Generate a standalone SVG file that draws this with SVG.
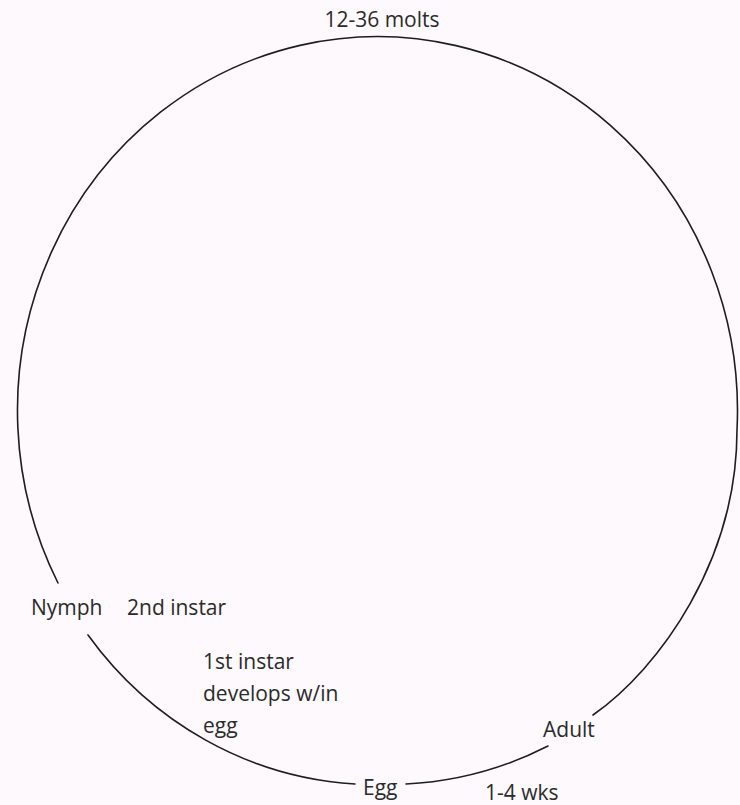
<svg xmlns="http://www.w3.org/2000/svg" width="740" height="805" viewBox="0 0 740 805">
<style>
.lbl{font-family:"Open Sans","Noto Sans","Liberation Sans",sans-serif;font-size:21px;fill:#2b2b2b}
.arc{fill:none;stroke:#1e1e1e;stroke-width:1.6;stroke-linecap:round}
</style>
<rect width="740" height="805" fill="#fdf9fc"/>
<g id="connectors">
<path class="arc" d="M593,715 C660,668 737,560 737,430 A360,374 0 1 0 58,583"/>
<path class="arc" d="M88,635 A360,374 0 0 0 355,784"/>
<path class="arc" d="M406,784 A360,374 0 0 0 548,746"/>
</g>
<g id="molts"><text class="lbl" x="382" y="27" text-anchor="middle">12-36 molts</text></g>
<g id="nymph"><text class="lbl" x="31" y="615">Nymph</text></g>
<g id="instar2"><text class="lbl" x="127" y="615">2nd instar</text></g>
<g id="instar1"><text class="lbl" x="203" y="669">1st instar</text><text class="lbl" x="203" y="701">develops w/in</text><text class="lbl" x="203" y="733">egg</text></g>
<g id="adult"><text class="lbl" x="543" y="737">Adult</text></g>
<g id="egg"><text class="lbl" x="363" y="795">Egg</text></g>
<g id="wks"><text class="lbl" x="485" y="800">1-4 wks</text></g>
</svg>
